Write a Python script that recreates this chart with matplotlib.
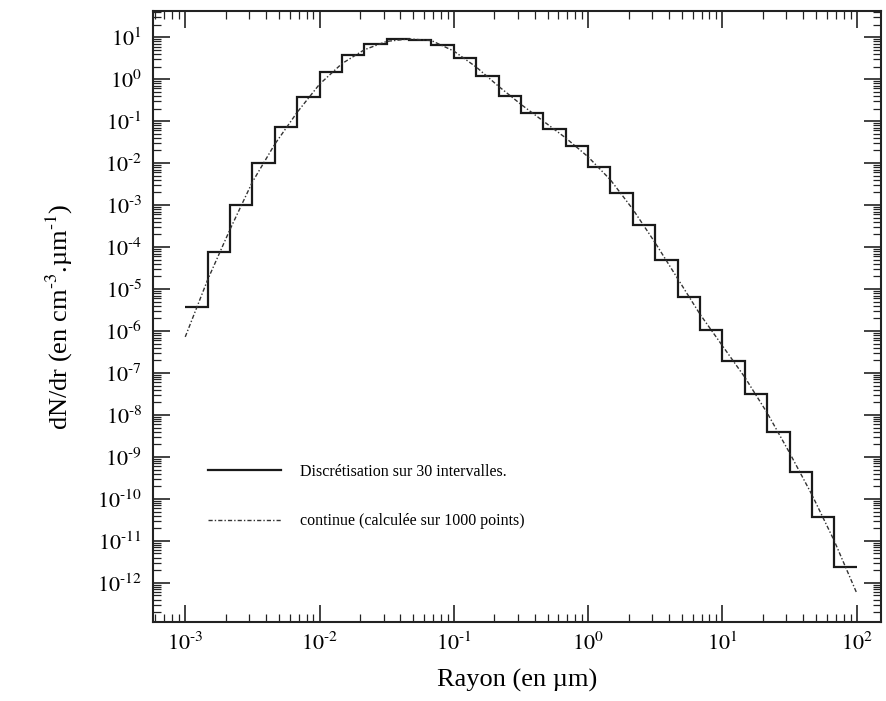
import numpy as np
import matplotlib
matplotlib.use('Agg')
import matplotlib.pyplot as plt
from matplotlib.ticker import LogLocator, FuncFormatter, NullFormatter

plt.rcParams['font.family'] = ['Liberation Serif', 'DejaVu Serif']
plt.rcParams['mathtext.fontset'] = 'stix'

# 30 intervalles log-uniformes entre 1e-3 et 1e2 um
edges = np.logspace(-3, 2, 31)
# niveaux des marches (log10 dN/dr)
step_log = [-5.43, -4.12, -3.00, -2.00, -1.14, -0.43, 0.17, 0.57, 0.83, 0.95,
            0.94, 0.81, 0.50, 0.07, -0.40, -0.81, -1.19, -1.60, -2.10, -2.71,
            -3.48, -4.31, -5.19, -5.98, -6.71, -7.50, -8.40, -9.36, -10.43, -11.62]
# courbe continue, lue aux bords des intervalles
curve_log = [-6.14, -4.78, -3.58, -2.45, -1.55, -0.79, -0.12, 0.37, 0.70, 0.90,
             0.96, 0.92, 0.67, 0.29, -0.17, -0.60, -1.00, -1.40, -1.85, -2.40,
             -3.10, -3.90, -4.75, -5.60, -6.35, -7.10, -7.95, -8.90, -9.90, -11.00,
             -12.24]

steps = 10.0 ** np.array(step_log)
curve = 10.0 ** np.array(curve_log)


def puiss10(v, pos):
    e = int(round(np.log10(v)))
    if e < 0:
        return r'$10^{\text{-}%d}$' % (-e)
    return r'$10^{%d}$' % e


fig = plt.figure(figsize=(8.86, 7.01), dpi=100)
ax = fig.add_axes([0.173, 0.113, 0.821, 0.871])

ax.stairs(steps, edges, baseline=None, color='#1a1a1a', lw=1.6,
          label='Discrétisation sur 30 intervalles.')
ax.plot(edges, curve, color='#333333', lw=1.0, ls=(0, (3, 1.5, 1, 1.5)),
        label='continue (calculée sur 1000 points)')

ax.set_xscale('log')
ax.set_yscale('log')
ax.set_xlim(5.78e-4, 151)
ax.set_ylim(1.18e-13, 41.6)

ax.set_xticks([10.0 ** k for k in range(-3, 3)])
ax.set_yticks([10.0 ** k for k in range(-12, 2)])
ax.xaxis.set_major_formatter(FuncFormatter(puiss10))
ax.yaxis.set_major_formatter(FuncFormatter(puiss10))
ax.xaxis.set_minor_locator(LogLocator(base=10, subs=np.arange(2, 10), numticks=50))
ax.yaxis.set_minor_locator(LogLocator(base=10, subs=np.arange(2, 10), numticks=50))
ax.xaxis.set_minor_formatter(NullFormatter())
ax.yaxis.set_minor_formatter(NullFormatter())

ax.tick_params(which='both', direction='in', top=True, right=True, color='#222222')
ax.tick_params(which='major', length=12, width=1.2, labelsize=16, pad=8)
ax.tick_params(which='minor', length=6, width=0.9)
for s in ax.spines.values():
    s.set_linewidth(1.5)
    s.set_color('#222222')

ax.set_xlabel('Rayon (en µm)', fontsize=19, labelpad=10)
ax.set_ylabel(r'dN/dr (en cm$^{\text{-}3}$.µm$^{\text{-}1}$)', fontsize=19, labelpad=16)

ax.legend(loc='center left', bbox_to_anchor=(0.055, 0.205), frameon=False,
          fontsize=11.5, handlelength=4.6, handletextpad=1.2, labelspacing=2.1)

fig.savefig('out.png', dpi=100)
